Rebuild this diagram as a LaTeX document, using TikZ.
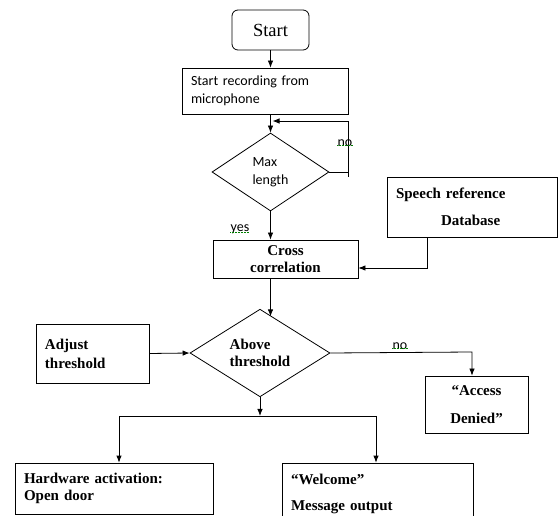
\documentclass[tikz,border=0pt]{standalone}
\usepackage{fontspec}
\setmainfont{Liberation Serif}
\newfontfamily\calfont{Carlito}
\usetikzlibrary{shapes.geometric,positioning,arrows.meta}

\begin{document}
\begin{tikzpicture}[x=1pt,y=-1pt,>={Latex[length=7pt,width=5.5pt]},line width=0.8pt,
  box/.style={draw,rectangle,inner sep=0pt},
  cond/.style={draw,diamond,inner sep=0pt},
  sans/.style={font=\calfont\fontsize{14}{18}\selectfont},
  serb/.style={font=\bfseries\fontsize{15}{16.5}\selectfont},
  lbl/.style={sans,inner sep=0pt}]
  \useasboundingbox (0,0) rectangle (558,516);
  \node[box,rounded corners=6pt,minimum width=77,minimum height=40,
    font=\fontsize{18.5}{20}\selectfont] (start) at (270.5,30) {Start};
  \node[box,sans,minimum width=166,minimum height=46,text width=148,align=left] (rec) at (265,91)
    {Start recording from\\microphone};
  \node[cond,sans,minimum width=117,minimum height=78,align=left] (maxl) at (270.5,172) {Max\\length};
  \node[box,serb,minimum width=145,minimum height=38,align=center] (cc) at (285.5,259) {Cross\\correlation};
  \node[box,serb,minimum width=170,minimum height=60,text width=152,align=left] (db) at (472,207)
    {Speech reference\\[11pt]\hspace*{45pt}Database};
  \node[cond,serb,minimum width=140,minimum height=86,align=left] (ab) at (260,353) {Above\\threshold};
  \node[box,serb,minimum width=113,minimum height=59,text width=95,align=left,
    font=\bfseries\fontsize{15}{19}\selectfont] (adj) at (92.5,353.5) {Adjust\\threshold\\[12pt]};
  \node[box,serb,minimum width=103,minimum height=57,align=center] (deny) at (476.5,404.5)
    {``Access\\[11pt]Denied''};
  \node[box,serb,minimum width=198,minimum height=51,text width=180,align=left] (hw) at (114,488.5)
    {Hardware activation:\\Open door};
  \node[box,serb,minimum width=191,minimum height=62,text width=173,align=left] (wel) at (377.5,494)
    {``Welcome''\\[10pt]Message output};

  \coordinate (lp) at (348,121);
  \coordinate (dbj) at (427,268);
  \coordinate (dn) at (472,352);
  \coordinate (spl) at (119,416);
  \coordinate (spr) at (376,416);

  \draw[->] (start.south) -- (start.south |- rec.north);
  \draw[->] (rec.south -| start.south) -- (maxl.north);
  \draw[->] (maxl.east) -- (maxl.east -| lp) -- ++(0,5) (maxl.east -| lp) -- (lp) -- ([xshift=2pt]start.south |- lp);
  \node[lbl] (no1) at (345,143) {no};
  \draw[->] (maxl.south) -- (maxl.south |- cc.north);
  \node[lbl] (yes) at (240,229) {yes};
  \draw[->] (db.south -| dbj) -- (dbj) -- (cc.east |- dbj);
  \draw[->] (maxl.south |- cc.south) -- ++(0,38);
  \draw[->] (adj.east) -- (ab.west);
  \draw[->] (ab.east) -- (dn) -- (dn |- deny.north);
  \node[lbl] (no2) at (400,346) {no};
  \draw[->] (ab.south) -- (ab.south |- spl);
  \draw (spl) -- (spr);
  \draw[->] (spl) -- (spl |- hw.north);
  \draw[->] (spr) -- (spr |- wel.north);
  % spell check marks
  \foreach \w in {no1,yes,no2}
    \draw[green!50!black,line width=0.5pt,densely dotted] ([yshift=2pt]\w.south west) -- ([yshift=2pt]\w.south east);
\end{tikzpicture}
\end{document}
